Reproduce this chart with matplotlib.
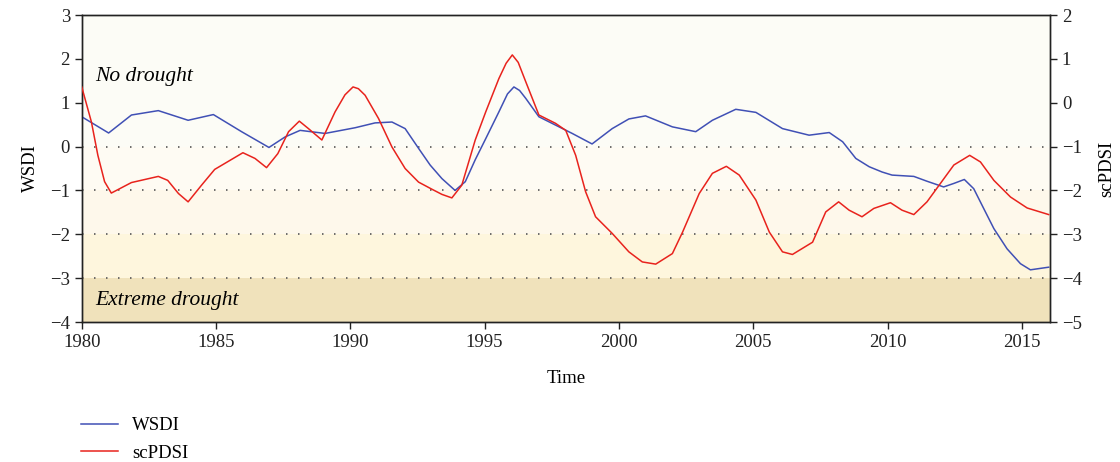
import matplotlib
matplotlib.use("Agg")
import matplotlib.pyplot as plt
from matplotlib.lines import Line2D

plt.rcParams["font.family"] = ["Liberation Serif", "DejaVu Serif"]

# WSDI curve (left axis)
wsdi_years = [1980.0, 1981.0, 1981.85, 1982.85, 1983.96, 1984.9, 1985.95, 1986.97,
              1987.57, 1988.13, 1989.06, 1990.18, 1990.92, 1991.55, 1992.04, 1992.54,
              1992.97, 1993.41, 1993.9, 1994.28, 1994.65, 1995.04, 1995.53, 1995.85,
              1996.09, 1996.3, 1996.53, 1997.02, 1997.64, 1998.26, 1999.0, 1999.75,
              2000.37, 2000.99, 2001.99, 2002.86, 2003.48, 2004.35, 2005.1, 2006.09,
              2007.08, 2007.83, 2008.33, 2008.82, 2009.32, 2009.8, 2010.17, 2010.98,
              2011.47, 2012.09, 2012.47, 2012.86, 2013.21, 2013.58, 2013.96, 2014.45,
              2014.95, 2015.32, 2016.0]
wsdi_vals = [0.68, 0.31, 0.72, 0.82, 0.60, 0.73, 0.34, -0.02,
             0.22, 0.37, 0.30, 0.43, 0.54, 0.56, 0.41, -0.04,
             -0.42, -0.73, -1.00, -0.80, -0.30, 0.18, 0.79, 1.20,
             1.36, 1.28, 1.10, 0.68, 0.49, 0.30, 0.06, 0.41,
             0.63, 0.70, 0.45, 0.34, 0.60, 0.85, 0.78, 0.41,
             0.26, 0.32, 0.11, -0.27, -0.46, -0.58, -0.65, -0.68,
             -0.79, -0.92, -0.84, -0.75, -0.96, -1.41, -1.87, -2.33,
             -2.67, -2.81, -2.75]

# scPDSI curve (right axis)
pdsi_years = [1980.0, 1980.36, 1980.6, 1980.85, 1981.1, 1981.85, 1982.85, 1983.2,
              1983.6, 1983.96, 1984.46, 1984.95, 1986.0, 1986.45, 1986.88, 1987.3,
              1987.7, 1988.1, 1988.44, 1988.94, 1989.43, 1989.8, 1990.1, 1990.3,
              1990.55, 1991.05, 1991.55, 1992.04, 1992.54, 1993.03, 1993.41, 1993.78,
              1994.15, 1994.65, 1995.04, 1995.53, 1995.8, 1996.03, 1996.25, 1996.53,
              1997.02, 1997.64, 1998.02, 1998.39, 1998.76, 1999.13, 1999.75, 2000.37,
              2000.87, 2001.37, 2001.99, 2002.37, 2002.99, 2003.48, 2004.0, 2004.48,
              2005.1, 2005.6, 2006.09, 2006.46, 2007.21, 2007.7, 2008.18, 2008.57,
              2009.05, 2009.49, 2010.11, 2010.54, 2010.98, 2011.47, 2011.97, 2012.47,
              2013.06, 2013.46, 2013.96, 2014.58, 2015.2, 2016.0]
pdsi_vals = [0.36, -0.44, -1.20, -1.80, -2.06, -1.82, -1.68, -1.77,
             -2.07, -2.26, -1.88, -1.52, -1.14, -1.27, -1.48, -1.16,
             -0.66, -0.42, -0.59, -0.85, -0.21, 0.18, 0.36, 0.32,
             0.17, -0.36, -1.01, -1.50, -1.81, -1.97, -2.09, -2.17,
             -1.88, -0.85, -0.21, 0.55, 0.90, 1.09, 0.92, 0.48,
             -0.28, -0.47, -0.63, -1.20, -2.03, -2.60, -2.98, -3.40,
             -3.63, -3.68, -3.44, -2.95, -2.07, -1.61, -1.45, -1.65,
             -2.22, -2.95, -3.40, -3.46, -3.18, -2.49, -2.26, -2.45,
             -2.60, -2.41, -2.28, -2.45, -2.55, -2.26, -1.84, -1.42,
             -1.20, -1.35, -1.77, -2.15, -2.40, -2.55]

# drought classes on the WSDI scale
band_edges = [3, 0, -1, -2, -3, -4]
band_colors = ["#fcfcf6", "#fefbf3", "#fef8eb", "#fef6dd", "#f0e2bb"]
dotted_levels = [0, -1, -2, -3]

fig = plt.figure(figsize=(11.2, 4.62), dpi=100)
ax = fig.add_axes([0.073, 0.303, 0.8645, 0.6645])
ax2 = ax.twinx()

for top, bottom, c in zip(band_edges[:-1], band_edges[1:], band_colors):
    ax.axhspan(bottom, top, color=c, lw=0, zorder=0)
for lvl in dotted_levels:
    ax.axhline(lvl, color="#555555", lw=1.2, linestyle=(0, (0.9, 6.3)), zorder=1)

ax.plot(wsdi_years, wsdi_vals, color="#4050b5", lw=1.1, zorder=3)
ax2.plot(pdsi_years, pdsi_vals, color="#e8231d", lw=1.1, zorder=3)

ax.set_xlim(1980, 2016.05)
ax.set_ylim(-4, 3)
ax2.set_ylim(-5, 2)
ax.set_xticks(range(1980, 2016, 5))
ax.set_yticks(range(-4, 4))
ax2.set_yticks(range(-5, 3))

fs = 13.5
for a in (ax, ax2):
    a.tick_params(direction="out", length=5, width=1, labelsize=fs, colors="#222222")
    for s in a.spines.values():
        s.set_linewidth(1.0)
        s.set_color("#222222")

ax.set_xlabel("Time", fontsize=fs, labelpad=14)
ax.set_ylabel("WSDI", fontsize=fs, labelpad=8)
ax2.set_ylabel("scPDSI", fontsize=fs, labelpad=12)

ax.text(1980.5, 1.6, "No drought", style="italic", fontsize=15.5, va="center", zorder=4)
ax.text(1980.5, -3.5, "Extreme drought", style="italic", fontsize=15.5, va="center", zorder=4)

handles = [Line2D([], [], color="#4050b5", lw=1.1),
           Line2D([], [], color="#e8231d", lw=1.1)]
fig.legend(handles, ["WSDI", "scPDSI"], loc="upper left",
           bbox_to_anchor=(0.072, 0.097), frameon=False, fontsize=fs,
           handlelength=2.0, handletextpad=0.75, labelspacing=0.55,
           borderpad=0, borderaxespad=0)

fig.savefig("out.png", dpi=100)
